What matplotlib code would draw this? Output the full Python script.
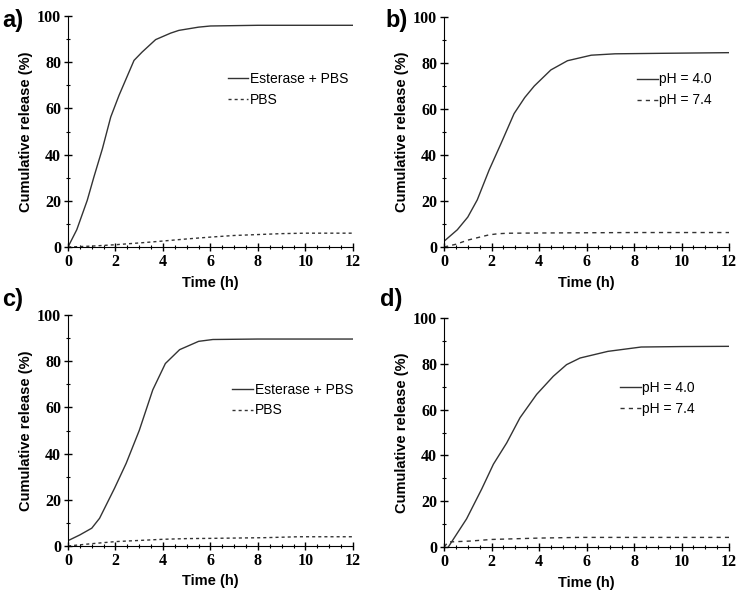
import matplotlib
matplotlib.use('Agg')
import matplotlib.pyplot as plt
from matplotlib.ticker import MultipleLocator

# ── data ────────────────────────────────────────────────────────────────
# a) esterase vs PBS
a_t_est = [0, 0.37, 0.81, 1.09, 1.45, 1.8, 2.15, 2.78, 3.12, 3.69, 4.32, 4.67, 5.5, 6.0, 8.0, 12.0]
a_y_est = [0, 7.5, 20.2, 30.3, 42.6, 56.3, 65.7, 80.8, 84.4, 89.8, 92.6, 93.8, 95.2, 95.7, 96, 96]
a_t_pbs = [0, 1.0, 2.0, 3.3, 4.0, 5.0, 6.0, 7.0, 9.0, 10.0, 12.0]
a_y_pbs = [0, 0.4, 1.0, 2.0, 2.6, 3.5, 4.3, 5.0, 5.8, 6.0, 6.0]

# b) pH 4.0 vs pH 7.4
b_t_40 = [0, 0.56, 1.0, 1.4, 1.9, 2.4, 2.95, 3.4, 3.8, 4.5, 5.2, 6.2, 7.2, 9.0, 12.0]
b_y_40 = [2.5, 7.5, 13, 20.5, 33.5, 45, 58, 65, 70, 77, 81, 83.4, 84, 84.2, 84.5]
b_t_74 = [0, 0.5, 1.0, 1.5, 1.9, 2.3, 2.7, 4.0, 6.0, 8.0, 12.0]
b_y_74 = [0, 1.2, 3.0, 4.3, 5.3, 5.8, 6.0, 6.1, 6.2, 6.3, 6.3]

# c) esterase vs PBS
c_t_est = [0, 0.5, 1.0, 1.33, 1.96, 2.45, 3.0, 3.57, 4.1, 4.7, 5.5, 6.1, 8.0, 12.0]
c_y_est = [2.3, 4.8, 7.7, 12, 25, 35.8, 50, 67.6, 79, 85, 88.6, 89.4, 89.6, 89.6]
c_t_pbs = [0, 1.0, 2.0, 4.0, 5.0, 6.0, 8.3, 9.7, 12.0]
c_y_pbs = [0, 1.0, 1.9, 2.9, 3.2, 3.3, 3.6, 4.0, 4.0]

# d) pH 4.0 vs pH 7.4
d_t_40 = [0.18, 0.95, 1.59, 2.08, 2.64, 3.2, 3.9, 4.6, 5.16, 5.73, 6.9, 8.3, 10.0, 12.0]
d_y_40 = [0, 12.3, 25.4, 36.2, 45.5, 56.5, 66.7, 74.6, 79.7, 82.6, 85.5, 87.4, 87.6, 87.7]
d_t_74 = [0, 0.18, 1.1, 2.0, 4.0, 5.7, 8.0, 12.0]
d_y_74 = [0, 2.2, 2.6, 3.3, 3.9, 4.2, 4.2, 4.2]

lab_est = ['Esterase + PBS', 'PBS']
lab_ph = ['pH = 4.0', 'pH = 7.4']

panels = [
    ('a)', [0.0909, 0.5876, 0.381, 0.3856], (a_t_est, a_y_est), (a_t_pbs, a_y_pbs),
     lab_est, (2.2, 2.2), (0.56, 0.684), (0.003, 0.985)),
    ('b)', [0.5936, 0.5876, 0.381, 0.384], (b_t_40, b_y_40), (b_t_74, b_y_74),
     lab_ph, (3, 3), (0.677, 0.683), (0.515, 0.985)),
    ('c)', [0.0909, 0.0885, 0.381, 0.3856], (c_t_est, c_y_est), (c_t_pbs, c_y_pbs),
     lab_est, (2.2, 2.2), (0.577, 0.632), (0.003, 0.52)),
    ('d)', [0.5936, 0.0868, 0.381, 0.382], (d_t_40, d_y_40), (d_t_74, d_y_74),
     lab_ph, (3, 3), (0.618, 0.65), (0.508, 0.52)),
]

fig = plt.figure(figsize=(7.48, 5.99), dpi=100)
line_col = '#333333'

for tag, rect, s1, s2, labels, dash, leg_xy, tag_xy in panels:
    ax = fig.add_axes(rect)
    ax.plot(s1[0], s1[1], '-', color=line_col, lw=1.0, label=labels[0])
    ax.plot(s2[0], s2[1], color=line_col, lw=1.0, dashes=dash, label=labels[1])

    ax.set_xlim(0, 12)
    ax.set_ylim(0, 100)
    ax.xaxis.set_major_locator(MultipleLocator(2))
    ax.xaxis.set_minor_locator(MultipleLocator(0.5))
    ax.yaxis.set_major_locator(MultipleLocator(20))
    ax.yaxis.set_minor_locator(MultipleLocator(10))
    ax.spines['top'].set_visible(False)
    ax.spines['right'].set_visible(False)
    ax.tick_params(which='major', direction='inout', length=6, width=1, pad=2)
    ax.tick_params(which='minor', direction='inout', length=3, width=0.8)
    for lbl in ax.get_xticklabels() + ax.get_yticklabels():
        lbl.set_fontfamily('Liberation Serif')
        lbl.set_fontweight('bold')
        lbl.set_fontsize(11.5)

    ax.set_xlabel('Time (h)', fontfamily='Liberation Sans', fontweight='bold',
                  fontsize=10.5, labelpad=4)
    ax.set_ylabel('Cumulative release (%)', fontfamily='Liberation Sans',
                  fontweight='bold', fontsize=10.5, labelpad=3)

    ax.legend(loc='center left', bbox_to_anchor=leg_xy, frameon=False,
              borderpad=0, borderaxespad=0, handlelength=1.5, handletextpad=0.1,
              labelspacing=0.5, prop={'family': 'Liberation Sans', 'size': 10})

    fig.text(tag_xy[0], tag_xy[1], tag, ha='left', va='top',
             fontfamily='Liberation Sans', fontweight='bold', fontsize=17)

plt.savefig('out.png', dpi=100)
